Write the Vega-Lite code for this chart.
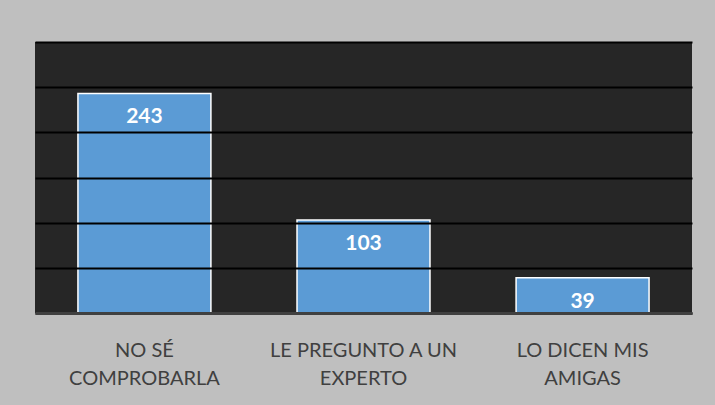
{
  "$schema": "https://vega.github.io/schema/vega-lite/v6.json",
  "width": 657,
  "height": 271,
  "autosize": {"type": "none"},
  "padding": {"left": 35, "top": 42, "right": 23, "bottom": 92},
  "background": "#bfbfbf",
  "config": {
    "view": {"fill": "#262626", "stroke": null},
    "font": "Lato"
  },
  "data": {
    "values": [
      {"categoria": "NO SÉ COMPROBARLA", "valor": 243},
      {"categoria": "LE PREGUNTO A UN EXPERTO", "valor": 103},
      {"categoria": "LO DICEN MIS AMIGAS", "valor": 39}
    ]
  },
  "encoding": {
    "x": {
      "field": "categoria",
      "type": "nominal",
      "sort": null,
      "scale": {"paddingInner": 0.393, "paddingOuter": 0.196},
      "axis": {
        "title": null,
        "labelAngle": 0,
        "ticks": false,
        "domainColor": "#404040",
        "domainWidth": 3,
        "labelColor": "#404040",
        "labelFont": "Lato",
        "labelFontSize": 20,
        "labelPadding": 27,
        "labelBaseline": "top",
        "labelLineHeight": 28,
        "labelLimit": 300,
        "zindex": 1,
        "labelExpr": "datum.value == 'NO SÉ COMPROBARLA' ? ['NO SÉ', 'COMPROBARLA'] : datum.value == 'LE PREGUNTO A UN EXPERTO' ? ['LE PREGUNTO A UN', 'EXPERTO'] : ['LO DICEN MIS', 'AMIGAS']"
      }
    },
    "y": {
      "field": "valor",
      "type": "quantitative",
      "scale": {"domain": [0, 300], "nice": false},
      "axis": {
        "title": null,
        "labels": false,
        "ticks": false,
        "domain": false,
        "values": [0, 50, 100, 150, 200, 250, 300],
        "grid": true,
        "gridColor": "#000000",
        "gridWidth": 2,
        "zindex": 1
      }
    }
  },
  "layer": [
    {
      "mark": {"type": "bar", "color": "#5b9bd5", "stroke": "#ffffff", "strokeWidth": 1.5}
    },
    {
      "mark": {
        "type": "text",
        "color": "#ffffff",
        "font": "Lato",
        "fontSize": 21,
        "fontWeight": "bold",
        "baseline": "middle",
        "dy": 24
      },
      "encoding": {"text": {"field": "valor", "type": "quantitative"}}
    }
  ]
}
